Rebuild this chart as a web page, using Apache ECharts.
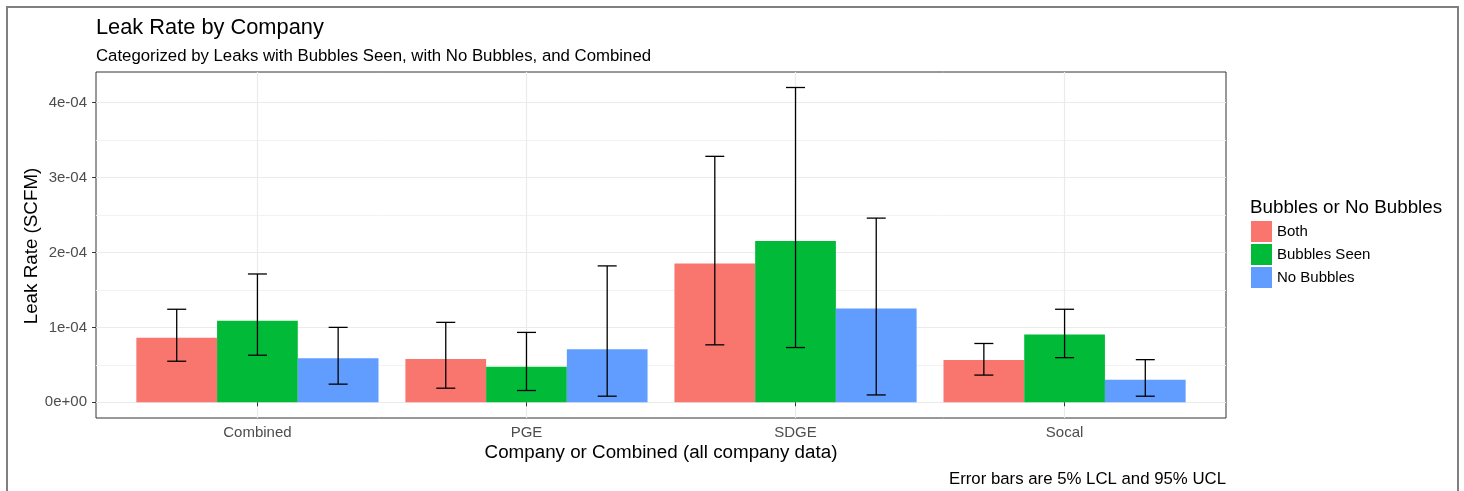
<!DOCTYPE html>
<html>
<head>
<meta charset="utf-8">
<script src="https://cdn.jsdelivr.net/npm/echarts@6/dist/echarts.min.js"></script>
<style>
html, body { margin: 0; padding: 0; background: #fff; }
#main { width: 1464px; height: 491px; }
</style>
</head>
<body>
<div id="main"></div>
<script>
var companies = ['Combined', 'PGE', 'SDGE', 'Socal'];
var groups = ['Both', 'Bubbles Seen', 'No Bubbles'];

// mean leak rate (SCFM) per company, one array per group
var bothMean = [8.61e-5, 5.79e-5, 1.853e-4, 5.65e-5];
var bubblesMean = [1.09e-4, 4.75e-5, 2.153e-4, 9.06e-5];
var noBubblesMean = [5.88e-5, 7.09e-5, 1.252e-4, 3.00e-5];

// 5% LCL
var bothLCL = [5.48e-5, 1.88e-5, 7.67e-5, 3.63e-5];
var bubblesLCL = [6.28e-5, 1.57e-5, 7.31e-5, 5.96e-5];
var noBubblesLCL = [2.42e-5, 8.1e-6, 9.8e-6, 8.1e-6];

// 95% UCL
var bothUCL = [1.242e-4, 1.067e-4, 3.284e-4, 7.85e-5];
var bubblesUCL = [1.713e-4, 9.33e-5, 4.203e-4, 1.242e-4];
var noBubblesUCL = [1.0e-4, 1.821e-4, 2.459e-4, 5.69e-5];

var yTicks = [0, 1e-4, 2e-4, 3e-4, 4e-4];
var yMinorTicks = [5e-5, 1.5e-4, 2.5e-4, 3.5e-4];

var colors = ['#F8766D', '#00BA38', '#619CFF'];
var means = [bothMean, bubblesMean, noBubblesMean];
var lcls = [bothLCL, bubblesLCL, noBubblesLCL];
var ucls = [bothUCL, bubblesUCL, noBubblesUCL];

var FONT = '"Liberation Sans", Arial, sans-serif';
var xPos = companies.map(function (c, i) { return i + 0.6; });

function sci(v) {
    if (Math.abs(v) < 1e-12) return '0e+00';
    var e = Math.floor(Math.log10(Math.abs(v)) + 1e-9);
    var m = Math.round(v / Math.pow(10, e));
    return m + 'e' + (e < 0 ? '-' : '+') + String(Math.abs(e)).padStart(2, '0');
}

var myChart = echarts.init(document.getElementById('main'));

var series = [];
groups.forEach(function (g, j) {
    series.push({
        name: g,
        type: 'custom',
        z: 2,
        itemStyle: { color: colors[j] },
        data: means[j].map(function (v, i) { return [i, v]; }),
        renderItem: function (params, api) {
            var x = api.value(0) + 0.6 + (j - 1) * 0.3;
            var p1 = api.coord([x - 0.15, api.value(1)]);
            var p2 = api.coord([x + 0.15, 0]);
            return {
                type: 'rect',
                shape: { x: p1[0], y: p1[1], width: p2[0] - p1[0], height: p2[1] - p1[1] },
                style: { fill: colors[j] }
            };
        }
    });
});

var errData = [];
groups.forEach(function (g, j) {
    companies.forEach(function (c, i) {
        errData.push([i, lcls[j][i], ucls[j][i], j]);
    });
});

series.push({
    name: 'errors',
    type: 'custom',
    z: 3,
    encode: { x: 0, y: [1, 2] },
    data: errData,
    renderItem: function (params, api) {
        var x = api.value(0) + 0.6 + (api.value(3) - 1) * 0.3;
        var lo = api.coord([x, api.value(1)]);
        var hi = api.coord([x, api.value(2)]);
        var hw = 9.5;
        var st = { stroke: '#000', lineWidth: 1.3 };
        return {
            type: 'group',
            children: [
                { type: 'line', shape: { x1: lo[0], y1: lo[1], x2: hi[0], y2: hi[1] }, style: st },
                { type: 'line', shape: { x1: hi[0] - hw, y1: hi[1], x2: hi[0] + hw, y2: hi[1] }, style: st },
                { type: 'line', shape: { x1: lo[0] - hw, y1: lo[1], x2: lo[0] + hw, y2: lo[1] }, style: st }
            ]
        };
    }
});

var option = {
    backgroundColor: '#fff',
    animation: false,
    grid: {
        left: 96, top: 72, width: 1130, height: 346,
        show: true, borderColor: '#333', borderWidth: 1, backgroundColor: '#fff'
    },
    xAxis: {
        type: 'value',
        min: 0, max: 4.2,
        axisLine: { show: false },
        axisTick: { show: true, customValues: xPos, length: 4, lineStyle: { color: '#333', width: 1 } },
        axisLabel: {
            customValues: xPos, margin: 7, color: '#4d4d4d', fontSize: 15, fontFamily: FONT,
            formatter: function (v) { return companies[Math.round(v - 0.6)]; }
        },
        splitLine: { show: true, lineStyle: { color: '#ebebeb', width: 1.2 } }
    },
    yAxis: [{
        type: 'value',
        min: -2.1e-5, max: 4.41e-4,
        axisLine: { show: false },
        axisTick: { show: true, customValues: yTicks, length: 4, lineStyle: { color: '#333', width: 1 } },
        axisLabel: { customValues: yTicks, margin: 9, color: '#4d4d4d', fontSize: 15, fontFamily: FONT, formatter: sci },
        splitLine: { show: true, lineStyle: { color: '#ebebeb', width: 1.2 } }
    }, {
        type: 'value',
        min: -2.1e-5, max: 4.41e-4,
        position: 'left',
        axisLine: { show: false },
        axisTick: { show: false, customValues: yMinorTicks },
        axisLabel: { show: false, customValues: yMinorTicks },
        splitLine: { show: true, lineStyle: { color: '#f2f2f2', width: 1 } }
    }],
    legend: {
        data: groups,
        orient: 'vertical',
        left: 1251, top: 221,
        padding: 0,
        icon: 'rect',
        itemWidth: 21, itemHeight: 21, itemGap: 2,
        textStyle: { fontSize: 15, color: '#000', fontFamily: FONT },
        selectedMode: false
    },
    graphic: [
        { type: 'rect', shape: { x: 7, y: 7, width: 1451, height: 500 }, style: { fill: 'none', stroke: '#808080', lineWidth: 2 }, silent: true },
        { type: 'text', x: 96, y: 28, style: { text: 'Leak Rate by Company', font: '21.8px ' + FONT, fill: '#000', textAlign: 'left', textVerticalAlign: 'middle' } },
        { type: 'text', x: 96, y: 56, style: { text: 'Categorized by Leaks with Bubbles Seen, with No Bubbles, and Combined', font: '16.8px ' + FONT, fill: '#000', textAlign: 'left', textVerticalAlign: 'middle' } },
        { type: 'text', x: 661, y: 453, style: { text: 'Company or Combined (all company data)', font: '18.8px ' + FONT, fill: '#000', textAlign: 'center', textVerticalAlign: 'middle' } },
        { type: 'text', x: 32, y: 246, rotation: Math.PI / 2, style: { text: 'Leak Rate (SCFM)', font: '18.8px ' + FONT, fill: '#000', textAlign: 'center', textVerticalAlign: 'middle' } },
        { type: 'text', x: 1226, y: 479, style: { text: 'Error bars are 5% LCL and 95% UCL', font: '16.8px ' + FONT, fill: '#000', textAlign: 'right', textVerticalAlign: 'middle' } },
        { type: 'text', x: 1250, y: 208, style: { text: 'Bubbles or No Bubbles', font: '18.8px ' + FONT, fill: '#000', textAlign: 'left', textVerticalAlign: 'middle' } }
    ],
    series: series
};
myChart.setOption(option);
</script>
</body>
</html>
